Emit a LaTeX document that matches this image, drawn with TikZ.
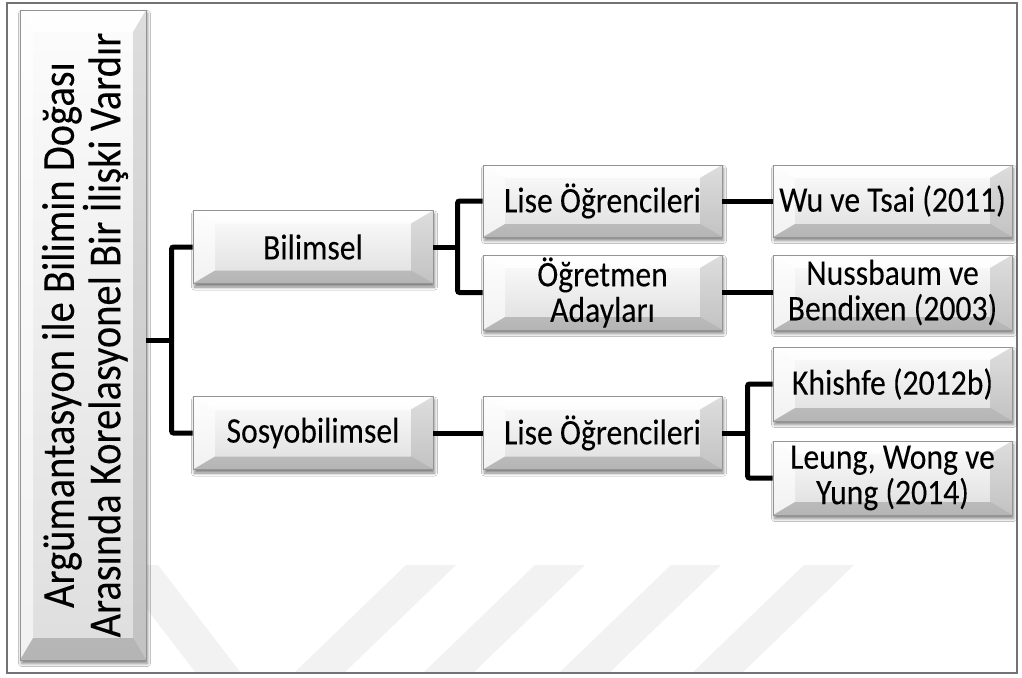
\documentclass[tikz,border=0pt]{standalone}
\usepackage{fontspec}
\setmainfont{Carlito}
\newfontfamily\boxfont[FakeStretch=0.88, FakeBold=0.08]{Carlito}
\usetikzlibrary{calc,shadows.blur}

\tikzset{
  % raised grey button with bevelled edges; #1 = side bevel, #2 = top/bottom bevel
  bevelbox/.style 2 args={
    draw=black!42, line width=0.8pt, inner sep=0pt,
    top color=black!1, bottom color=black!13,
    blur shadow={shadow xshift=1.5pt, shadow yshift=-3.5pt,
                 shadow blur steps=6, shadow blur radius=3pt, shadow opacity=50},
    path picture={
      \path (path picture bounding box.north west) coordinate (bvNW)
            (path picture bounding box.north east) coordinate (bvNE)
            (path picture bounding box.south west) coordinate (bvSW)
            (path picture bounding box.south east) coordinate (bvSE);
      \fill[white, opacity=0.85] (bvNW) -- (bvNE) -- ([shift={(-#1,-#2)}]bvNE)
            -- ([shift={(#1,-#2)}]bvNW) -- cycle;
      \fill[white, opacity=0.6] (bvNW) -- (bvSW) -- ([shift={(#1,#2)}]bvSW)
            -- ([shift={(#1,-#2)}]bvNW) -- cycle;
      \fill[black, opacity=0.12] (bvNE) -- (bvSE) -- ([shift={(-#1,#2)}]bvSE)
            -- ([shift={(-#1,-#2)}]bvNE) -- cycle;
      \fill[black, opacity=0.18] (bvSW) -- (bvSE) -- ([shift={(-#1,#2)}]bvSE)
            -- ([shift={(#1,#2)}]bvSW) -- cycle;
    }
  },
  item/.style={bevelbox={22pt}{13pt}, minimum width=240pt, minimum height=73pt,
    font=\boxfont\fontsize{36}{35.5}\selectfont, align=center, text=black},
  conn/.style={draw=black, line width=5pt, rounded corners=2pt},
  wmark/.style={fill=black!5, draw=none}
}

\begin{document}
\begin{tikzpicture}[x=1pt, y=-1pt]
  \useasboundingbox (0,0) rectangle (1022,677);
  \fill[white] (0,0) rectangle (1022,677);

  % faint background stripes
  \fill[wmark] (113,565) -- (158,565) -- (241,673) -- (196,673) -- cycle;
  \foreach \tx in {406,535,671,804}{
    \fill[wmark] (\tx,565) -- (\tx+50,565) -- (\tx-62,673) -- (\tx-112,673) -- cycle;
  }

  % outer frame
  \draw[black!55, line width=1.5pt] (7,3) rectangle (1017,673);

  % main claim (vertical)
  \node[bevelbox={13pt}{22pt}, minimum width=126pt, minimum height=650pt] (claim) at (83,335) {};
  \node[rotate=90, font=\boxfont\fontsize{46}{44}\selectfont, align=center, inner sep=0pt] (claimtext)
    at ([xshift=2pt]claim.center) {Argümantasyon ile Bilimin Doğası\\Arasında Korelasyonel Bir İlişki Vardır};

  % second level
  \node[item] (bil) at (313,247) {Bilimsel};
  \node[item] (sos) at (313,433) {Sosyobilimsel};

  % third level
  \node[item, minimum width=239pt, minimum height=72pt] (liseA) at (602.5,201) {Lise Öğrencileri};
  \node[item, minimum width=239pt, minimum height=75pt] (ogr) at (602.5,292.5) {Öğretmen\\Adayları};
  \node[item, minimum width=239pt] (liseB) at (602.5,433) {Lise Öğrencileri};

  % studies
  \node[item, minimum width=239pt, minimum height=72pt] (wu) at (892.5,201) {Wu ve Tsai (2011)};
  \node[item, minimum width=239pt, minimum height=75pt] (nus) at (892.5,292.5) {Nussbaum ve\\Bendixen (2003)};
  \node[item, minimum width=239pt, minimum height=74pt] (khi) at (892.5,384) {Khishfe (2012b)};
  \node[item, minimum width=239pt, minimum height=74pt] (leu) at (892.5,478) {Leung, Wong ve\\Yung (2014)};

  % connectors
  \coordinate (j1) at ($(bil.west)!0.5!(sos.west)+(-21,0)$);
  \draw[conn] (j1) -- (j1 -| claim.east);
  \draw[conn] (bil.west) -| (j1) |- (sos.west);

  \coordinate (j2) at ($(liseA.west)!0.5!(ogr.west)+(-25,0)$);
  \draw[conn] (bil.east) -- (bil.east -| j2);
  \draw[conn] (liseA.west) -| (j2) |- (ogr.west);

  \coordinate (j3) at ($(khi.west)!0.5!(leu.west)+(-25,0)$);
  \draw[conn] (liseB.east) -- (liseB.east -| j3);
  \draw[conn] (khi.west) -| (j3) |- (leu.west);

  \draw[conn] (liseA.east) -- (wu.west);
  \draw[conn] (ogr.east) -- (nus.west);
  \draw[conn] (sos.east) -- (liseB.west);
\end{tikzpicture}
\end{document}
